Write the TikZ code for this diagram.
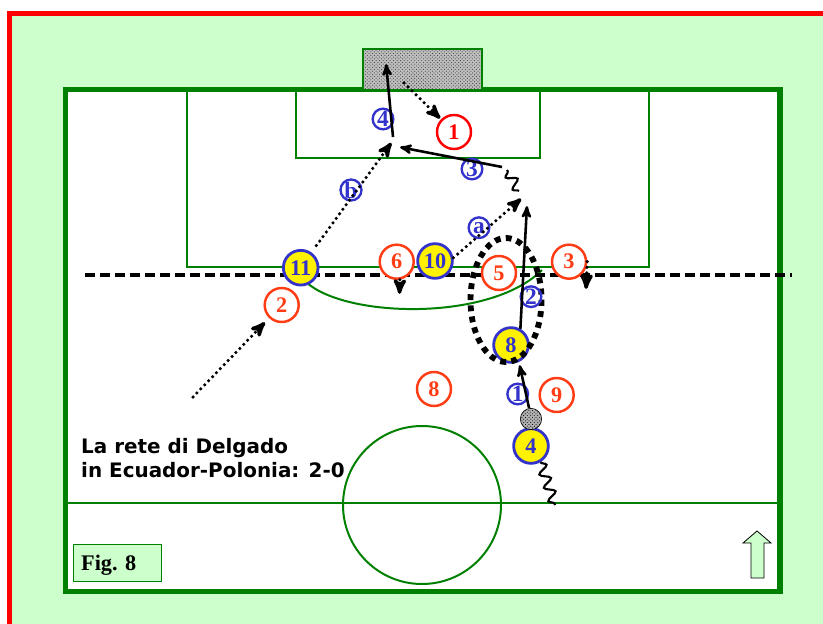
\documentclass[tikz,border=0pt]{standalone}
\usepackage{fontspec}
\setmainfont{Liberation Serif}
\newfontfamily\didafont{DejaVu Sans}
\usepackage{tikz}
\usetikzlibrary{arrows,positioning,patterns,decorations.pathmorphing}

\definecolor{prato}{HTML}{CCFFCC}
\definecolor{linea}{HTML}{008000}
\definecolor{arancio}{HTML}{FF3C14}
\definecolor{blu}{HTML}{3333CC}

\tikzset{
    %Define standard arrow tip
    >=stealth',
    %Define style for field lines
    campo/.style={
           draw=linea,
           line width=1.7pt},
    %Define style for defenders
    difesa/.style={
           circle,
           draw=arancio, line width=2.1pt,
           fill=white,
           text=arancio,
           minimum size=1.02cm,
           inner sep=0pt,
           font=\fontsize{19}{19}\selectfont\bfseries},
    %Define style for attackers
    attacco/.style={
           circle,
           draw=blu, line width=2.4pt,
           fill=yellow,
           text=blu,
           minimum size=1.04cm,
           inner sep=0pt,
           font=\fontsize{19}{19}\selectfont\bfseries},
    %Define style for the numbered moves
    mossa/.style={
           circle,
           draw=blu, line width=2pt,
           text=blu,
           minimum size=0.62cm,
           inner sep=0pt,
           font=\fontsize{20}{20}\selectfont\bfseries},
    pallone/.style={
           circle,
           draw=black, line width=0.5pt,
           preaction={fill=gray!60},
           pattern=crosshatch dots,
           pattern color=black,
           minimum size=0.64cm,
           inner sep=0pt},
    % Define arrow styles
    palla/.style={
           ->,
           line width=2.2pt,
           shorten >=1pt},
    corsa/.style={
           ->,
           line width=3pt,
           dash pattern=on 0pt off 4.8pt,
           line cap=round,
           shorten >=1pt},
    dribbling/.style={
           decorate,
           decoration={snake, segment length=0.42cm, amplitude=0.15cm},
           line width=1.8pt},
    didascalia/.style={
           inner sep=0pt,
           font=\didafont\bfseries\fontsize{17}{20}\selectfont},
    figura/.style={
           rectangle,
           draw=linea, line width=1.2pt,
           fill=prato,
           text width=2.16cm,
           inner xsep=0.24cm,
           minimum height=1.11cm,
           align=left,
           text depth=0pt,
           font=\fontsize{19}{19}\selectfont\bfseries}
}

\begin{document}
\begin{tikzpicture}[x=0.03cm, y=-0.03cm]
\useasboundingbox (0,0) rectangle (823,623);
\clip (0,0) rectangle (823,623);
\fill[white] (0,0) rectangle (823,623);

 %frame and field
\draw[draw=red, fill=prato, line width=4.3pt] (9.5,13.5) rectangle (850,650);
\draw[campo, fill=white, line width=4.3pt] (65.5,89.5) rectangle (780,591.5);
\fill[gray!50] (363,49) rectangle (482,90);
\fill[pattern=crosshatch dots, pattern color=gray!50!black] (363,49) rectangle (482,90);
\draw[campo] (363,90) -- (363,49) -- (482,49) -- (482,90);
\draw[campo] (187,90) rectangle (649,267);
\draw[campo] (296,90) rectangle (540,158);
\draw[campo] (67,503) -- (778,503);
\draw[campo] (422,505) circle [radius=79];
\draw[campo] (306,282) .. controls (345,318) and (490,322) .. (542,270);
\draw[line width=2.6pt, dash pattern=on 8.5pt off 4.3pt] (85,275) -- (792,275);

 %players
\node[difesa, draw=red, text=red] (r1) at (454,132) {1};
\node[difesa] (r2) at (281.7,305) {2};
\node[difesa] (r3) at (569,261.7) {3};
\node[difesa] (r5) at (499,273) {5};
\node[difesa] (r6) at (396.7,261.7) {6};
\node[difesa] (r8) at (434,389) {8};
\node[difesa] (r9) at (556.7,395) {9};
\node[attacco] (g4) at (531,446) {4};
\node[attacco] (g8) at (511,345) {8};
\node[attacco] (g10) at (435,261) {10};
\node[attacco] (g11) at (300.7,267.7) {11};
\node[pallone] (ball) at (531,419) {};

\draw[line width=5pt, dash pattern=on 5pt off 4.5pt] (506,300) ellipse [x radius=35.5, y radius=62];

 %moves
\node[mossa] (m1) at (517.7,394) {1};
\node[mossa] (m2) at (531,296.7) {2};
\node[mossa] (m3) at (472,169) {3};
\node[mossa] (m4) at (383,119) {4};
\node[mossa] (ma) at (479,227.7) {a};
\node[mossa] (mb) at (351,190) {b};

\coordinate (inizio2) at (193,397);
\coordinate (rimbalzo) at (404,83);
\coordinate (arrivob) at (392,142);
\coordinate (tiro) at (393,137);
\coordinate (porta) at (386,63);
\coordinate (fine3) at (399,147);
\coordinate (passo3) at (502,167);
\coordinate (drib1) at (507,170);
\coordinate (drib2) at (519,191);
\coordinate (finea) at (522,198);
\coordinate (fine2) at (527,205);
\coordinate (giu6) at (399.5,295);
\coordinate (giu3) at (586,290);
\coordinate (drib4) at (555,505);

\draw[corsa, shorten >=0.18cm] (inizio2) -- (r2);
\draw[corsa, shorten <=0.25cm] (g11.55) -- (arrivob);
\draw[corsa] (g10.10) -- (finea);
\draw[corsa] (rimbalzo) -- (r1);
\draw[corsa] (r6.-80) -- (giu6);
\draw[corsa] (r3.east) -- (giu3);
\draw[palla, shorten >=0.1cm] (ball.100) -- (g8.-65);
\draw[palla] (g8.60) -- (fine2);
\draw[palla] (passo3) -- (fine3);
\draw[palla] (tiro) -- (porta);
\draw[dribbling] (drib2) -- (drib1);
\draw[dribbling] (g4.-60) -- (drib4);

 %captions
\node[didascalia, anchor=base west] (riga1) at (81,453) {La rete di Delgado};
\node[didascalia, anchor=base west] (riga2) at (81,477) {in Ecuador-Polonia: 2-0};
\node[figura, anchor=north west] (fig) at (72.5,544) {Fig.\ 8};
\draw[fill=prato, line width=0.7pt] (743,543) -- (757,531) -- (771,543) -- (764,543)
   -- (764,578) -- (751,578) -- (751,543) -- cycle;

\end{tikzpicture}
\end{document}
